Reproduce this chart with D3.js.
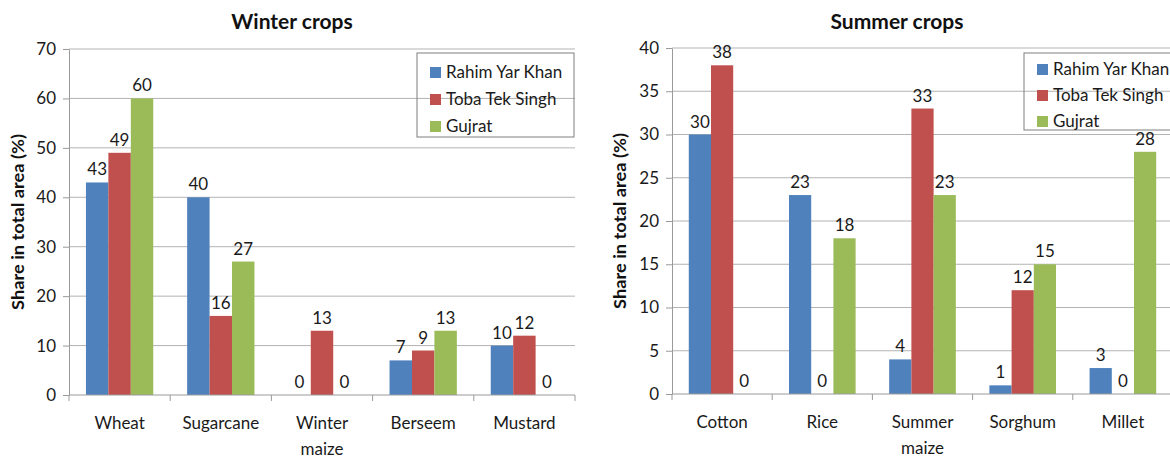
<!DOCTYPE html>
<html>
<head>
<meta charset="utf-8">
<script src="https://cdn.jsdelivr.net/npm/d3@7"></script>
<style>
  body { margin: 0; background: #fff; }
  svg { font-family: Lato, "Open Sans", sans-serif; }
</style>
</head>
<body>
<div id="chart"></div>
<script>
// Series names and colours
const seriesNames = ["Rahim Yar Khan", "Toba Tek Singh", "Gujrat"];
const seriesColors = ["#4F81BD", "#C0504D", "#9BBB59"];

// Winter crops
const winterCategories = ["Wheat", "Sugarcane", "Winter maize", "Berseem", "Mustard"];
const winterRahim = [43, 40, 0, 7, 10];
const winterToba = [49, 16, 13, 9, 12];
const winterGujrat = [60, 27, 0, 13, 0];
const winterTicks = [0, 10, 20, 30, 40, 50, 60, 70];

// Summer crops
const summerCategories = ["Cotton", "Rice", "Summer maize", "Sorghum", "Millet"];
const summerRahim = [30, 23, 4, 1, 3];
const summerToba = [38, 0, 33, 12, 0];
const summerGujrat = [0, 18, 23, 15, 28];
const summerTicks = [0, 5, 10, 15, 20, 25, 30, 35, 40];

const svg = d3.select("#chart").append("svg")
    .attr("width", 1170)
    .attr("height", 458);

function drawPanel(opt) {
    const g = svg.append("g");
    const rows = opt.categories.map((c, i) => ({
        cat: c,
        vals: opt.series.map((s, j) => ({ name: seriesNames[j], value: s[i], color: seriesColors[j] }))
    }));

    const y = d3.scaleLinear()
        .domain([0, d3.max(opt.ticks)])
        .range([opt.bottom, opt.top]);

    const x0 = d3.scaleBand()
        .domain(opt.categories)
        .range([opt.left, opt.right])
        .paddingInner(0.335)
        .paddingOuter(0.1675);

    const x1 = d3.scaleBand()
        .domain(seriesNames)
        .range([0, x0.bandwidth()]);

    // Gridlines
    g.append("g")
        .selectAll("line")
        .data(opt.ticks.filter(t => t > 0))
        .join("line")
        .attr("x1", opt.left)
        .attr("x2", opt.right)
        .attr("y1", d => y(d))
        .attr("y2", d => y(d))
        .attr("stroke", "#b3b3b3")
        .attr("stroke-width", 1);

    // Y axis
    const yAxis = g.append("g")
        .attr("transform", `translate(${opt.left},0)`)
        .call(d3.axisLeft(y).tickValues(opt.ticks).tickSize(6).tickPadding(7).tickSizeOuter(0));
    yAxis.select(".domain").attr("stroke", "#9a9a9a");
    yAxis.selectAll(".tick line").attr("stroke", "#9a9a9a");
    yAxis.selectAll(".tick text")
        .attr("font-size", 17)
        .attr("fill", "#1a1a1a")
        .attr("font-family", "Lato, sans-serif");

    // Bars
    const groups = g.append("g")
        .selectAll("g")
        .data(rows)
        .join("g")
        .attr("transform", d => `translate(${x0(d.cat)},0)`);

    groups.selectAll("rect")
        .data(d => d.vals)
        .join("rect")
        .attr("x", d => x1(d.name))
        .attr("width", x1.bandwidth())
        .attr("y", d => y(d.value))
        .attr("height", d => y(0) - y(d.value))
        .attr("fill", d => d.color);

    groups.selectAll("text")
        .data(d => d.vals)
        .join("text")
        .attr("x", d => x1(d.name) + x1.bandwidth() / 2)
        .attr("y", d => y(d.value) - 7)
        .attr("text-anchor", "middle")
        .attr("font-size", 17)
        .attr("fill", "#1a1a1a")
        .text(d => d.value);

    // X axis line and boundary ticks
    const step = x0.step();
    const bounds = opt.categories.map(c => x0(c) - step * 0.1675).concat([opt.right]);
    g.append("line")
        .attr("x1", opt.left).attr("x2", opt.right)
        .attr("y1", y(0)).attr("y2", y(0))
        .attr("stroke", "#9a9a9a");
    g.append("g")
        .selectAll("line")
        .data(bounds)
        .join("line")
        .attr("x1", d => d).attr("x2", d => d)
        .attr("y1", y(0)).attr("y2", y(0) + 6)
        .attr("stroke", "#9a9a9a");

    // Category labels (wrapped)
    const labels = g.append("g")
        .selectAll("text")
        .data(opt.categories)
        .join("text")
        .attr("x", d => x0(d) + x0.bandwidth() / 2)
        .attr("y", y(0) + 34)
        .attr("text-anchor", "middle")
        .attr("font-size", 17)
        .attr("fill", "#1a1a1a");
    labels.each(function(d) {
        const words = d.split(" ");
        const t = d3.select(this);
        words.forEach((w, i) => {
            t.append("tspan")
                .attr("x", x0(d) + x0.bandwidth() / 2)
                .attr("dy", i === 0 ? 0 : 26)
                .text(w);
        });
    });

    // Title
    g.append("text")
        .attr("x", opt.titleX)
        .attr("y", 29)
        .attr("text-anchor", "middle")
        .attr("font-size", 21)
        .attr("font-weight", "bold")
        .attr("fill", "#111")
        .text(opt.title);

    // Y axis title
    g.append("text")
        .attr("transform", `translate(${opt.yLabelX},${(opt.top + opt.bottom) / 2}) rotate(-90)`)
        .attr("text-anchor", "middle")
        .attr("font-size", 17)
        .attr("font-weight", "bold")
        .attr("fill", "#111")
        .attr("textLength", 176)
        .attr("lengthAdjust", "spacingAndGlyphs")
        .text("Share in total area (%)");

    // Legend (no fill, gridlines show through)
    const lg = g.append("g").attr("transform", `translate(${opt.legendX},${opt.legendY})`);
    lg.append("rect")
        .attr("width", opt.legendW)
        .attr("height", opt.legendH)
        .attr("fill", "none")
        .attr("stroke", "#7f7f7f");
    const items = lg.selectAll("g")
        .data(seriesNames)
        .join("g")
        .attr("transform", (d, i) => `translate(13,${opt.legendPad + i * opt.legendRow})`);
    items.append("rect")
        .attr("width", 11).attr("height", 11)
        .attr("fill", (d, i) => seriesColors[i]);
    items.append("text")
        .attr("x", 16)
        .attr("y", 11)
        .attr("font-size", 17)
        .attr("fill", "#1a1a1a")
        .text(d => d);
}

drawPanel({
    categories: winterCategories,
    series: [winterRahim, winterToba, winterGujrat],
    ticks: winterTicks,
    left: 69, right: 575, top: 49, bottom: 395,
    title: "Winter crops", titleX: 292, yLabelX: 24,
    legendX: 417, legendY: 53, legendW: 157, legendH: 84, legendRow: 27, legendPad: 14
});

drawPanel({
    categories: summerCategories,
    series: [summerRahim, summerToba, summerGujrat],
    ticks: summerTicks,
    left: 672, right: 1173, top: 48, bottom: 394,
    title: "Summer crops", titleX: 897, yLabelX: 626,
    legendX: 1024, legendY: 53, legendW: 160, legendH: 77, legendRow: 26, legendPad: 11
});
</script>
</body>
</html>
